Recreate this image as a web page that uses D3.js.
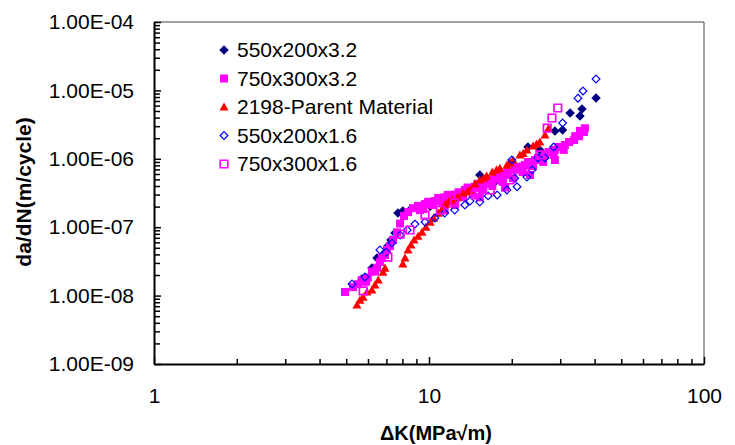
<!DOCTYPE html>
<html>
<head>
<meta charset="utf-8">
<script src="https://cdn.jsdelivr.net/npm/d3@7"></script>
<style>
  html, body { margin: 0; padding: 0; background: #fff; }
  svg { display: block; }
  text { font-family: "Liberation Sans", Arial, sans-serif; fill: #000; }
</style>
</head>
<body>
<svg id="chart" width="735" height="445"></svg>
<script>
// ---------- data ----------
const seriesNames = ["550x200x3.2", "750x300x3.2", "2198-Parent Material", "550x200x1.6", "750x300x1.6"];

// 550x200x3.2 (navy filled diamonds)
const s1K = [5.70, 6.20, 6.47, 7.09, 7.27, 7.52, 7.71, 8.03, 8.53, 10.1, 11.6, 12.8, 14.1, 15.3, 17.4, 20.0, 21.4, 22.9, 25.3, 28.7, 30.6, 32.6, 35.4, 36.0, 40.5];
const s1V = [1.75e-8, 2.53e-8, 3.55e-8, 5.3e-8, 6.5e-8, 8.2e-8, 1.61e-7, 1.72e-7, 1.78e-7, 2.03e-7, 2.41e-7, 2.74e-7, 3.50e-7, 5.8e-7, 4.6e-7, 8.7e-7, 7.6e-7, 1.49e-6, 1.35e-6, 2.55e-6, 2.64e-6, 4.67e-6, 4.22e-6, 5.35e-6, 7.74e-6];

// 750x300x3.2 (magenta filled squares)
const s2K = [4.95, 5.29, 5.52, 5.70, 5.90, 5.99, 6.20, 6.36, 6.47, 6.63, 6.75, 6.92, 7.03, 7.21, 7.40, 7.65, 7.85, 8.11, 8.39, 8.74, 9.12, 9.27, 9.51, 9.67, 9.92, 10.3, 10.5, 10.8, 11.2, 11.4, 11.4, 11.7, 12.2, 12.4, 12.4, 12.8, 13.3, 13.5, 13.8, 14.4, 14.7, 15.0, 15.3, 15.7, 16.0, 16.4, 17.0, 17.4, 17.8, 18.5, 18.9, 18.9, 19.3, 20.2, 20.5, 21.0, 21.9, 22.3, 22.9, 23.3, 23.9, 24.3, 24.9, 26.0, 26.4, 27.2, 28.4, 28.7, 28.7, 29.6, 30.9, 31.2, 32.3, 33.7, 34.0, 35.1, 35.4, 36.6, 36.9];
const s2V = [1.13e-8, 1.33e-8, 1.47e-8, 1.69e-8, 1.59e-8, 1.83e-8, 2.25e-8, 2.25e-8, 2.56e-8, 3.1e-8, 3.55e-8, 3.93e-8, 4.65e-8, 5.3e-8, 6.5e-8, 8.4e-8, 1.13e-7, 1.46e-7, 1.66e-7, 1.90e-7, 2.05e-7, 1.78e-7, 1.84e-7, 2.18e-7, 2.35e-7, 2.11e-7, 2.41e-7, 2.68e-7, 2.27e-7, 1.78e-7, 2.74e-7, 2.96e-7, 2.50e-7, 2.11e-7, 3.0e-7, 3.24e-7, 2.74e-7, 3.50e-7, 3.80e-7, 3.08e-7, 3.9e-7, 4.3e-7, 2.74e-7, 3.50e-7, 4.3e-7, 4.9e-7, 4.0e-7, 5.0e-7, 5.8e-7, 4.6e-7, 3.80e-7, 5.8e-7, 6.4e-7, 5.2e-7, 6.9e-7, 7.6e-7, 6.4e-7, 8.1e-7, 9.0e-7, 5.8e-7, 7.8e-7, 9.6e-7, 1.03e-6, 9.0e-7, 1.14e-6, 1.26e-6, 1.14e-6, 9.6e-7, 1.35e-6, 1.49e-6, 1.35e-6, 1.59e-6, 1.76e-6, 1.88e-6, 2.14e-6, 2.14e-6, 2.56e-6, 2.46e-6, 2.8e-6];

// 2198-Parent Material (red filled triangles)
const s3K = [5.47, 5.61, 5.76, 5.95, 6.20, 6.36, 6.54, 6.80, 6.92, 8.03, 8.18, 8.39, 8.60, 8.82, 9.12, 9.43, 9.75, 10.1, 10.4, 10.8, 11.2, 11.5, 11.8, 12.1, 12.7, 13.3, 13.8, 14.1, 14.7, 15.3, 15.8, 16.2, 17.0, 17.6, 18.1, 19.2, 19.7, 20.2, 21.4, 22.0, 22.7, 23.9, 24.6, 25.3, 26.4, 27.2];
const s3V = [7.3e-9, 8.6e-9, 9.5e-9, 1.13e-8, 1.21e-8, 1.43e-8, 1.69e-8, 2.21e-8, 2.53e-8, 2.90e-8, 3.55e-8, 4.65e-8, 5.5e-8, 6.5e-8, 7.4e-8, 8.5e-8, 1.00e-7, 1.19e-7, 1.36e-7, 1.61e-7, 1.90e-7, 2.18e-7, 2.35e-7, 2.50e-7, 2.74e-7, 3.16e-7, 3.3e-7, 3.50e-7, 4.3e-7, 4.9e-7, 5.2e-7, 5.6e-7, 6.4e-7, 6.9e-7, 7.3e-7, 8.1e-7, 8.7e-7, 9.6e-7, 1.14e-6, 1.2e-6, 1.35e-6, 1.54e-6, 1.64e-6, 1.76e-6, 2.23e-6, 2.8e-6];

// 550x200x1.6 (blue open diamonds)
const s4K = [5.25, 5.85, 6.63, 6.98, 7.33, 7.85, 8.33, 8.89, 9.67, 10.5, 11.4, 12.4, 13.5, 14.1, 15.3, 16.4, 17.7, 19.2, 20.0, 20.5, 20.9, 22.7, 23.7, 24.9, 26.4, 28.4, 30.6, 34.8, 36.3, 40.5];
const s4V = [1.48e-8, 1.87e-8, 4.65e-8, 4.3e-8, 5.87e-8, 7.7e-8, 9.1e-8, 1.11e-7, 1.19e-7, 1.36e-7, 1.61e-7, 1.78e-7, 2.11e-7, 2.41e-7, 2.33e-7, 2.87e-7, 2.96e-7, 3.50e-7, 9.6e-7, 5.2e-7, 3.9e-7, 5.4e-7, 6.9e-7, 1.03e-6, 1.03e-6, 1.49e-6, 3.34e-6, 7.7e-6, 9.8e-6, 1.47e-5];

// 750x300x1.6 (magenta open squares)
const s5K = [5.76, 7.09, 7.85, 8.53, 9.67, 11.0, 12.4, 14.7, 16.7, 19.7, 22.3, 25.3, 26.9, 28.0, 29.4];
const s5V = [1.17e-8, 3.65e-8, 7.9e-8, 9.1e-8, 1.51e-7, 1.78e-7, 2.27e-7, 2.96e-7, 3.50e-7, 4.9e-7, 6.9e-7, 1.14e-6, 2.8e-6, 3.95e-6, 5.53e-6];

// axes
const xMajorTicks = [1, 10, 100];
const xTickLabels = ["1", "10", "100"];
const yMajorTicks = [1e-9, 1e-8, 1e-7, 1e-6, 1e-5, 1e-4];
const yTickLabels = ["1.00E-09", "1.00E-08", "1.00E-07", "1.00E-06", "1.00E-05", "1.00E-04"];
const xTitle = "\u0394K(MPa\u221Am)";
const yTitle = "da/dN(m/cycle)";

// ---------- drawing ----------
const svg = d3.select("#chart");
const L = 154, R = 704, T = 22, B = 364;

const x = d3.scaleLog().domain([1, 100]).range([L, R]);
const y = d3.scaleLog().domain([1e-9, 1e-4]).range([B, T]);

// minor ticks from 2..9 in each decade
const xMinor = [];
for (let d = 1; d < 100; d *= 10) for (let m = 2; m <= 9; m++) xMinor.push(m * d);
const yMinor = [];
for (let d = 1e-9; d < 1e-4 * 0.99; d *= 10) for (let m = 2; m <= 9; m++) yMinor.push(m * d);

// plot border (top / right in grey)
svg.append("line").attr("x1", L).attr("x2", R).attr("y1", T).attr("y2", T)
  .attr("stroke", "#808080").attr("stroke-width", 1.5);
svg.append("line").attr("x1", R).attr("x2", R).attr("y1", T).attr("y2", B)
  .attr("stroke", "#808080").attr("stroke-width", 1.5);

// X axis
const gx = svg.append("g").attr("transform", `translate(0,${B})`);
gx.call(d3.axisBottom(x).tickValues(xMinor).tickSizeInner(-5).tickSizeOuter(0).tickFormat(""));
gx.call(g => g.select(".domain").remove());
const gx2 = svg.append("g").attr("transform", `translate(0,${B})`);
gx2.call(d3.axisBottom(x).tickValues(xMajorTicks).tickSizeInner(-7).tickSizeOuter(0)
  .tickPadding(24).tickFormat((d, i) => xTickLabels[i]));
gx2.selectAll("text").attr("font-size", 21).attr("font-family", "Liberation Sans, Arial, sans-serif");

// Y axis
const gy = svg.append("g").attr("transform", `translate(${L},0)`);
gy.call(d3.axisLeft(y).tickValues(yMinor).tickSizeInner(-6).tickSizeOuter(0).tickFormat(""));
gy.call(g => g.select(".domain").remove());
const gy2 = svg.append("g").attr("transform", `translate(${L},0)`);
gy2.call(d3.axisLeft(y).tickValues(yMajorTicks).tickSizeInner(-7).tickSizeOuter(0)
  .tickPadding(20).tickFormat((d, i) => yTickLabels[i]));
gy2.selectAll("text").attr("font-size", 21).attr("font-family", "Liberation Sans, Arial, sans-serif");

[gx, gx2, gy, gy2].forEach(g => {
  g.selectAll("line").attr("stroke", "#000").attr("stroke-width", 1.5);
  g.selectAll(".domain").attr("stroke", "#000").attr("stroke-width", 2);
});

// axis titles
svg.append("text").attr("x", 436).attr("y", 440).attr("text-anchor", "middle")
  .attr("font-size", 20).attr("font-weight", "bold").text(xTitle);
svg.append("text").attr("transform", "translate(31,192) rotate(-90)").attr("text-anchor", "middle")
  .attr("font-size", 21).attr("font-weight", "bold").text(yTitle);

// marker shapes
const diamondType = { draw(ctx, size) { const r = Math.sqrt(size) / 2; ctx.moveTo(0, -r); ctx.lineTo(r, 0); ctx.lineTo(0, r); ctx.lineTo(-r, 0); ctx.closePath(); } };
const squareType = { draw(ctx, size) { const r = Math.sqrt(size) / 2; ctx.rect(-r, -r, 2 * r, 2 * r); } };
const triType = { draw(ctx, size) { const r = Math.sqrt(size) / 2; ctx.moveTo(0, -r); ctx.lineTo(r, r * 0.8); ctx.lineTo(-r, r * 0.8); ctx.closePath(); } };

const styles = [
  { type: diamondType, size: 90, fill: "#000080", stroke: "none", sw: 0 },
  { type: squareType, size: 64, fill: "#FF00FF", stroke: "none", sw: 0 },
  { type: triType, size: 81, fill: "#FF0000", stroke: "none", sw: 0 },
  { type: diamondType, size: 60, fill: "none", stroke: "#0000FF", sw: 1.2 },
  { type: squareType, size: 56, fill: "none", stroke: "#FF00FF", sw: 1.7 }
];
const seriesData = [[s1K, s1V], [s2K, s2V], [s3K, s3V], [s4K, s4V], [s5K, s5V]];

const plot = svg.append("g");
seriesData.forEach(([ks, vs], i) => {
  const st = styles[i];
  const sym = d3.symbol().type(st.type).size(st.size);
  plot.append("g").selectAll("path").data(ks.map((k, j) => [k, vs[j]])).join("path")
    .attr("transform", d => `translate(${x(d[0])},${y(d[1])})`)
    .attr("d", sym)
    .attr("fill", st.fill).attr("stroke", st.stroke).attr("stroke-width", st.sw);
});

// legend
const leg = svg.append("g");
seriesNames.forEach((name, i) => {
  const st = styles[i];
  const yy = 50 + i * 28.5;
  leg.append("path").attr("transform", `translate(224,${yy})`)
    .attr("d", d3.symbol().type(st.type).size(st.size)())
    .attr("fill", st.fill).attr("stroke", st.stroke).attr("stroke-width", st.sw);
  leg.append("text").attr("x", 237).attr("y", yy).attr("dy", "0.35em")
    .attr("font-size", 21).text(name);
});
</script>
</body>
</html>
